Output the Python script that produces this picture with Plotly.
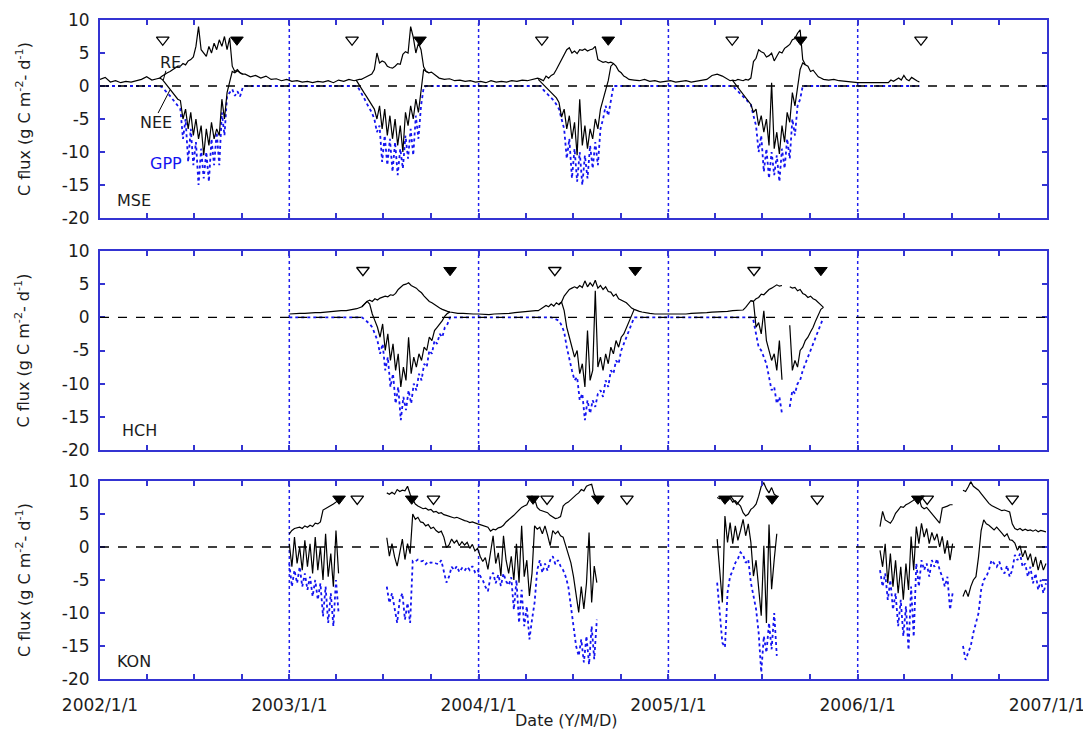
import pandas as pd
import plotly.graph_objects as go

# ---------------- data ----------------
# each series: list of (start date, step in days, values); None = data gap
MSE_RE = [
    ("2002-01-01", 10, [1.0, 1.3, 0.6, 0.8, 0.5, 0.7, 0.6, 0.8, 1.0, 1.4, 0.9, 1.1]),
    ("2002-04-26", 5, [1.2, 1.5, 1.8, 2.0, 2.2, 2.5, 2.7, 3.0, 3.0, 3.4, 3.2, 3.8, 4.0, 4.4, 6.0, 9.0, 5.5,
                       5.0, 4.5, 6.0, 5.0, 6.5, 5.5, 7.0, 6.0, 7.5, 5.5, 7.3, 3.0, 2.2, 2.5, 2.0, 1.8]),
    ("2002-10-08", 10, [1.8, 1.4, 1.6, 1.2, 1.5, 1.0, 1.1, 0.8, 1.0, 0.7, 0.8, 0.6, 0.7, 0.5, 0.7, 0.6,
                        0.8, 0.5, 0.9, 0.7, 1.0, 0.8, 1.0]),
    ("2003-05-20", 5, [1.0, 1.2, 1.4, 1.6, 1.8, 2.5, 5.0, 3.5, 3.8, 3.6, 3.0, 2.8, 2.7, 3.0, 3.4, 3.3, 4.8,
                       5.2, 5.0, 9.0, 7.4, 5.0, 6.5, 5.5, 2.9, 2.2, 2.0, 2.1, 1.8, 1.5, 1.2]),
    ("2003-10-27", 10, [1.0, 1.1, 0.8, 0.9, 0.7, 0.8, 0.6, 0.7, 0.5, 0.8, 0.6, 0.7, 0.6, 0.8, 0.7, 0.9,
                        0.8, 1.0, 1.2]),
    ("2004-04-30", 5, [1.0, 0.8, 1.5, 1.2, 1.6, 1.8, 2.5, 3.2, 4.0, 4.8, 5.5, 5.8, 5.0, 5.3, 4.9, 5.5, 5.4,
                       5.6, 5.3, 5.5, 5.6, 6.0, 4.0, 3.8, 3.6, 3.7, 3.5, 3.6, 3.4, 3.0, 2.3, 2.0, 1.5, 1.3, 1.0]),
    ("2004-10-27", 10, [0.9, 0.8, 1.0, 0.7, 0.8, 0.6, 0.7, 0.8, 0.6, 0.7, 0.8, 0.6, 0.7, 0.9, 1.0, 1.6,
                        1.8, 1.5, 1.0]),
    ("2005-04-30", 5, [0.8, 0.9, 0.8, 1.0, 0.9, 0.8, 1.0, 0.9, 1.2, 3.7, 4.2, 5.5, 5.2, 5.0, 4.4, 4.6, 5.0,
                       3.8, 4.5, 5.2, 5.0, 5.7, 6.0, 6.3, 7.0, 7.2, 8.0, 8.5, 4.0, 3.2, 3.0, 2.2, 2.4, 1.8,
                       1.4, 1.2, 1.0]),
    ("2005-11-06", 10, [0.9, 1.0, 0.8, 0.7, 0.6, 0.5]),
    ("2006-01-01", 59, [0.5, 0.5]),
    ("2006-03-06", 5, [0.9, 0.7, 1.0, 1.2, 0.9, 1.6, 1.0, 0.8, 1.3, 1.0, 0.8, 0.6]),
]
MSE_NEE = [
    ("2002-04-26", 5, [1.2, 1.0, 0.5, 0.0, -0.5, -0.9, -1.4, -2.0, -2.2, -5.0, -3.5, -6.5, -4.0, -7.5, -5.0,
                       -8.0, -6.0, -10.5, -6.5, -9.0, -5.5, -8.0, -6.5, -7.5, -2.0, -5.0, -1.0, 0.5, 2.2,
                       2.0, 2.3, 2.0, 1.8, None]),
    ("2003-05-10", 5, [0.9, 0.2, -0.5, -1.0, -1.6, -2.2, -3.0, -3.5, -5.0, -3.0, -6.5, -3.5, -7.5, -4.5,
                       -8.0, -5.0, -9.0, -6.0, -10.0, -4.0, -6.0, -3.0, -5.0, -2.0, -4.0, -0.5, 2.5, 2.2,
                       2.0, None]),
    ("2004-04-25", 5, [1.0, 0.6, 0.2, -0.2, -0.6, -0.9, -1.3, -1.8, -2.5, -4.7, -3.5, -6.5, -4.5, -8.0,
                       -5.5, -10.5, -2.0, -9.0, -6.0, -9.5, -6.5, -8.0, -5.0, -6.5, -3.5, -2.0, -0.8, 0.8,
                       3.0, 3.4, None]),
    ("2005-05-05", 5, [0.8, 0.3, -0.3, -0.7, -1.2, -1.8, -2.3, -2.8, -4.0, -3.5, -6.0, -4.5, -7.0, -5.0,
                       -9.0, 0.5, -9.5, -7.0, -10.3, -6.0, -8.5, -4.0, -5.5, -1.0, -3.0, -0.5, 2.5, 3.5,
                       3.2, None]),
]
MSE_GPP = [
    ("2002-01-01", 115, [0.0, 0.0]),
    ("2002-05-01", 5, [-0.2, -0.6, -1.0, -1.5, -2.0, -2.5, -3.0, -3.5, -8.0, -5.0, -11.5, -6.5, -12.0, -8.5,
                       -15.0, -9.5, -14.0, -10.0, -14.5, -8.0, -12.0, -7.0, -12.0, -4.0, -7.5, -1.5, -1.0,
                       -0.5, -1.5, -0.8, -1.6, -0.3, 0.0]),
    ("2002-10-13", 209, [0.0, 0.0]),
    ("2003-05-15", 5, [-0.4, -1.0, -1.8, -2.6, -3.2, -4.0, -5.0, -7.0, -6.0, -11.5, -7.5, -12.0, -8.0,
                       -13.0, -8.5, -13.5, -9.5, -12.5, -7.5, -11.0, -6.5, -10.5, -4.5, -8.0, -3.0, -0.3, 0.0]),
    ("2003-10-17", 196, [0.0, 0.0]),
    ("2004-05-05", 5, [-0.6, -1.0, -1.4, -1.8, -2.2, -2.8, -3.5, -5.0, -6.5, -11.0, -8.0, -14.0, -9.5,
                       -14.5, -10.0, -15.0, -10.5, -14.0, -9.0, -12.5, -8.5, -12.0, -6.5, -5.0, -3.0, -4.5,
                       -2.0, 0.0]),
    ("2004-09-22", 225, [0.0, 0.0]),
    ("2005-05-10", 5, [-0.4, -0.8, -1.1, -1.5, -1.9, -2.3, -2.8, -4.5, -6.0, -10.0, -7.5, -13.0, -9.5,
                       -14.0, -10.0, -13.5, -10.5, -14.5, -9.5, -12.5, -8.0, -11.0, -5.0, -7.5, -3.0, -2.0, 0.0]),
    ("2005-09-17", 225, [0.0, 0.0]),
]

HCH_RE = [
    ("2003-01-01", 10, [0.5, 0.6, 0.6, 0.6, 0.7, 0.7, 0.7, 0.8, 0.8, 0.9, 1.0, 1.0, 1.1, 1.3, 1.6]),
    ("2003-05-26", 5, [2.0, 2.4, 2.6, 2.4, 2.8, 2.6, 2.9, 3.0, 3.2, 3.1, 3.4, 3.3, 3.6, 4.2, 4.6, 4.9, 5.0,
                       5.2, 4.8, 4.6, 4.4, 4.0, 3.7, 3.2, 2.8, 2.4, 2.2, 1.9, 1.6, 1.4, 1.2, 1.0, 0.9, 0.8,
                       0.7, 0.7, 0.6]),
    ("2003-12-02", 10, [0.6, 0.5, 0.5, 0.5, 0.4, 0.4, 0.5, 0.5, 0.6, 0.6, 0.7, 0.8, 0.8, 0.9, 1.0]),
    ("2004-04-25", 5, [1.0, 1.3, 1.5, 1.8, 1.6, 2.0, 1.7, 2.2, 1.9, 2.3, 3.2, 3.8, 4.2, 4.4, 4.6, 4.4, 4.8,
                       4.5, 5.5, 4.6, 5.2, 4.7, 5.6, 4.4, 4.8, 4.2, 4.6, 3.9, 3.8, 3.2, 3.5, 2.8, 2.6, 2.4,
                       2.2, 1.8, 1.4, 1.2, 1.0, 0.9, 0.8, 0.7]),
    ("2004-11-26", 10, [0.6, 0.5, 0.5, 0.4, 0.4, 0.4, 0.5, 0.5, 0.6, 0.6, 0.7, 0.7, 0.8, 0.8, 0.9, 0.9,
                        1.0, 1.0, 1.1]),
    ("2005-05-30", 5, [1.5, 2.0, 2.5, 2.4, 2.8, 3.0, 3.5, 3.4, 3.8, 4.2, 4.4, 4.6, 4.9, 4.7, 4.8, None,
                       None, 4.6, 4.4, 4.5, 4.0, 4.2, 3.6, 3.4, 3.0, 3.2, 2.8, 2.6, 2.2, 1.8, 1.5]),
]
HCH_NEE = [
    ("2003-05-21", 5, [1.6, 2.0, 2.4, 2.0, 0.5, -0.5, -1.5, -3.0, -1.0, -5.0, -2.5, -6.5, -4.0, -8.0,
                       -5.5, -10.5, -7.5, -9.5, -3.0, -8.5, -6.0, -7.5, -5.5, -6.5, -4.5, -5.0, -3.0,
                       -3.5, -2.0, -1.5, -1.0, -0.5, 0.2, 0.6, 0.8, None]),
    ("2004-06-04", 5, [2.0, 2.3, 1.0, -1.5, -3.0, -4.5, -6.0, -5.0, -8.5, -7.0, -10.5, -2.0, -9.5, -8.0,
                       4.0, -7.5, -6.0, -8.0, -5.5, -7.0, -4.5, -5.5, -3.5, -4.5, -3.0, -2.5, -1.5, -0.5,
                       0.5, 1.2, None]),
    ("2005-06-09", 5, [2.5, 2.4, -1.5, -0.8, -2.5, 1.0, -3.5, -5.0, -6.5, -5.5, -8.0, -3.5, -9.4, None,
                       None, -1.2, -8.0, -6.5, -7.5, -5.0, -4.5, -3.5, -3.0, -2.2, -1.5, -0.5, 0.5, 1.2, 1.5]),
]
HCH_GPP = [
    ("2003-01-01", 140, [0.0, 0.0]),
    ("2003-05-26", 5, [-0.3, -0.6, -1.0, -1.5, -2.5, -3.5, -5.5, -4.0, -8.0, -6.0, -10.5, -8.5, -13.0,
                       -10.5, -15.5, -12.0, -14.0, -11.0, -13.0, -10.0, -11.0, -8.5, -9.5, -7.0, -7.5,
                       -5.0, -5.5, -3.5, -4.0, -2.5, -3.0, -1.5, -1.0, 0.0]),
    ("2003-11-07", 195, [0.0, 0.0]),
    ("2004-05-25", 5, [-0.2, -0.3, -0.5, -1.2, -2.2, -4.5, -6.5, -8.0, -9.5, -9.0, -12.5, -11.5, -15.5,
                       -12.5, -14.5, -12.5, -13.5, -11.5, -11.0, -12.0, -9.5, -10.5, -8.0, -8.5, -6.5,
                       -7.0, -5.0, -4.0, -3.0, -2.0, -1.0, 0.0]),
    ("2004-10-27", 225, [0.0, 0.0]),
    ("2005-06-14", 5, [-0.5, -2.5, -4.5, -5.0, -6.0, -7.0, -9.0, -11.0, -10.5, -13.0, -12.0, -14.5, None,
                       None, -13.5, -11.0, -11.5, -10.0, -9.5, -8.0, -7.0, -6.0, -5.0, -4.0, -3.0, -2.0,
                       -1.0, 0.0]),
]

KON_RE = [
    ("2003-01-01", 5, [2.0, 2.5, 2.8, 2.9, 3.0, 2.8, 3.2, 3.0, 3.3, 3.1, 3.6, 3.5, 3.8, 5.6, 5.8, 6.0, 6.2,
                       6.5, 6.8, 7.2, None]),
    ("2003-07-08", 5, [8.2, 8.0, 8.3, 8.0, 8.7, 8.4, 8.6, 8.5, 9.2, 8.0,
                       7.2, 6.5, 6.2, 6.0, 5.8, 5.9, 5.6, 5.7, 5.3, 5.4,
                       5.1, 5.2, 4.9, 4.8, 4.7, 4.6, 4.4, 4.5, 4.3, 4.2,
                       4.0, 3.9, 3.7, 3.8, 3.6, 3.5, 3.4, 3.3, 3.2, 3.0,
                       2.4, 2.7, 2.6, 2.9, 3.0, 3.3, 3.8, 4.1, 4.5, 4.8,
                       5.2, 5.6, 6.0, 6.2, 6.4, 7.2, 7.7, 7.3, 6.0, 5.6,
                       5.5, 5.4, 5.2, 4.8, 4.5, 4.3, 4.4, 4.6, 6.2, 6.6,
                       6.8, 7.2, 7.6, 7.9, 8.2, 8.7, 8.5, 9.2, 9.4, 9.5,
                       8.0, 7.4, None]),
    ("2005-04-05", 5, [7.5, 7.3, 7.6, 7.2, 7.0, 7.4, 6.8, 7.0, 6.6, 6.2, 5.2, 4.7, 5.0, 5.7, 6.0, 6.5, 7.7,
                       9.2, 9.7, 8.8, 8.2, 9.0, 8.0, 7.7, None]),
    ("2006-02-13", 5, [3.1, 5.4, 4.1, 3.8, 3.6, 4.2, 5.1, 5.6, 6.1, 6.0, 6.4, 6.6, 6.8, 7.1, 7.6, 7.4, 6.1,
                       5.8, 6.0, 5.5, 5.1, 4.6, 4.0, 3.6, 5.9, 6.0, 6.2, 6.4, 6.4, None]),
    ("2006-07-23", 5, [8.6, 8.4, 9.1, 9.9, 9.2, 8.9, 8.6, 8.1, 7.6, 7.0, 6.6, 6.3, 6.1, 5.8, 5.7, 5.5, 5.6,
                       5.4, 5.3, 3.5, 2.8, 2.6, 2.8, 2.5, 2.7, 2.5, 2.6, 2.4, 2.6, 2.3, 2.5, 2.4, 2.3]),
]
KON_NEE = [
    ("2003-01-01", 5, [0.5, -3.0, 1.5, -2.5, 0.0, -3.5, 1.0, -3.0, 0.5, -4.0, 1.5, -3.5, 0.0, -5.0, 2.0,
                       -4.5, -1.0, -6.0, 2.5, -4.0, None]),
    ("2003-07-08", 5, [1.4, -1.4, 0.5, -1.5, -2.9, -1.0, 1.2, -1.9, 0.5, -1.0,
                       5.0, 4.2, 4.5, 3.8, 3.7, 3.2, 3.4, 2.8, 3.0, 2.5,
                       2.2, 2.4, 1.5, -0.1, 0.3, 1.2, 0.6, 1.0, 0.2, 0.8,
                       0.3, 0.7, -0.2, 0.4, -0.6, -0.2, -1.4, -2.2, -1.6, -3.4,
                       -1.0, 1.7, -2.5, -0.9, -4.4, 1.7, -2.0, -4.0, -1.4, -5.0,
                       0.5, -5.4, 3.2, -4.5, -2.0, -7.4, -4.0, 3.2, 2.7, 3.0,
                       2.0, 3.2, 1.8, 0.2, 2.5, 2.0, 2.4, 1.7, 1.5, 0.2,
                       -0.9, -2.4, -4.5, -6.9, -9.9, -6.0, -9.4, -5.5, 2.2, -8.4,
                       -2.9, -5.4, None]),
    ("2005-04-05", 5, [1.2, -3.4, -8.4, 4.7, 0.7, 3.7, 0.5, 3.2, 1.0, 2.5, 4.2, 1.7, 3.5, 0.7, -4.4, -2.0,
                       -6.4, -10.4, 0.2, -11.5, 3.4, -6.4, -1.9, 2.0, None]),
    ("2006-02-13", 5, [-0.5, -3.0, 0.5, -5.5, -1.0, -6.0, -2.0, -7.0, -3.0, -8.0, -2.5, -6.5, 1.6, -3.5,
                       3.1, 0.5, 3.6, 1.5, 2.8, 0.5, 2.2, 1.0, 2.0, 0.0, 1.6, -1.0, 1.0, -2.0, 0.5, None]),
    ("2006-07-23", 5, [-7.5, -6.5, -7.5, -6.0, -5.0, -4.5, -1.5, 2.5, 4.1, 3.5, 3.3, 3.0, 2.6, 3.0, 2.6,
                       2.1, 1.6, 2.0, 1.1, 1.0, 0.6, -0.5, 0.2, -1.5, -0.5, -2.0, -1.0, -3.0, -1.5, -3.5,
                       -2.0, -3.5, -2.5]),
]
KON_GPP = [
    ("2003-01-01", 5, [-2.5, -6.0, -3.5, -5.5, -3.0, -6.0, -4.0, -6.5, -4.5, -7.5, -5.0, -8.0, -5.5, -10.5,
                       -6.0, -11.5, -7.0, -12.0, -5.0, -10.0, None]),
    ("2003-07-08", 5, [-6.0, -8.5, -7.0, -9.0, -11.5, -8.0, -7.0, -11.0, -8.5, -11.5,
                       -2.1, -2.2, -1.9, -2.2, -2.1, -2.6, -2.2, -2.4, -2.3, -2.5,
                       -2.6, -2.0, -3.9, -5.4, -4.5, -3.0, -3.5, -2.9, -3.8, -3.2,
                       -3.6, -3.0, -3.5, -2.9, -3.8, -3.4, -4.4, -5.0, -6.0, -6.7,
                       -4.5, -3.9, -5.5, -4.2, -5.9, -4.0, -5.2, -5.8, -4.6, -9.5,
                       -5.0, -11.5, -6.5, -12.0, -9.0, -14.0, -11.0, -8.4, -3.5, -2.0,
                       -3.9, -2.5, -3.6, -2.0, -1.4, -2.6, -2.0, -2.9, -3.5, -4.5,
                       -6.0, -9.4, -12.0, -15.0, -16.5, -14.0, -17.5, -13.5, -17.8, -12.0,
                       -17.0, -11.0, None]),
    ("2005-04-05", 5, [-5.4, -9.4, -14.5, -15.2, -6.9, -4.4, -3.6, -2.4, -1.8, -0.8, -1.2, -2.4, -1.9,
                       -5.4, -7.5, -9.4, -13.0, -19.0, -13.5, -16.0, -11.5, -15.5, -10.0, -16.5, None]),
    ("2006-02-13", 5, [-3.5, -6.0, -4.0, -8.0, -5.0, -9.5, -7.0, -12.0, -8.0, -13.5, -9.0, -15.6, -6.0,
                       -13.6, -2.5, -6.0, -2.0, -3.5, -2.5, -4.5, -2.0, -3.0, -1.8, -3.5, -4.5, -6.0,
                       -4.5, -9.5, -7.0, None]),
    ("2006-07-23", 5, [-15.0, -17.1, -16.0, -15.0, -13.0, -11.5, -10.0, -6.5, -5.0, -4.5, -3.5, -2.0,
                       -2.5, -3.0, -2.2, -3.5, -4.0, -2.8, -4.5, -3.5, -1.2, -2.0, -1.0, -3.0, -2.5,
                       -4.5, -3.0, -5.5, -4.0, -6.5, -5.0, -7.0, -5.5]),
]

# phenology markers (open = start, filled = end of season)
MSE_OPEN = ["2002-05-02", "2003-05-02", "2004-05-02", "2005-05-04", "2006-05-03"]
MSE_FILLED = ["2002-09-22", "2003-09-10", "2004-09-07", "2005-09-13"]
HCH_OPEN = ["2003-05-23", "2004-05-27", "2005-06-15"]
HCH_FILLED = ["2003-11-07", "2004-10-29", "2005-10-22"]
KON_OPEN = ["2003-05-12", "2003-10-06", "2004-05-12", "2004-10-13", "2005-05-13", "2005-10-15",
            "2006-05-15", "2006-10-26"]
KON_FILLED = ["2003-04-07", "2003-08-25", "2004-04-15", "2004-08-18", "2005-04-20", "2005-07-20",
              "2006-04-27"]
MARKER_LEVEL = [7.0, 7.1, 7.3]

X_START, X_END = "2002-01-01", "2007-01-01"
YEAR_TICKS = ["2002-01-01", "2003-01-01", "2004-01-01", "2005-01-01", "2006-01-01", "2007-01-01"]
YEAR_LABELS = ["2002/1/1", "2003/1/1", "2004/1/1", "2005/1/1", "2006/1/1", "2007/1/1"]
YEAR_LINES = ["2003-01-01", "2004-01-01", "2005-01-01", "2006-01-01"]
Y_TICKS = [-20, -15, -10, -5, 0, 5, 10]
Y_LABELS = ["-20", "-15", "-10", "-5", "0", "5", "10"]

# ---------------- helpers ----------------
def build(segments):
    xs, ys = [], []
    for start, step, vals in segments:
        t0 = pd.Timestamp(start)
        for i, v in enumerate(vals):
            xs.append(t0 + pd.Timedelta(days=step * i))
            ys.append(v)
    return xs, ys


BLUE_AX = "#3434d2"
GPP_BLUE = "#1414f0"
TXT = "#1c1c1c"
FONT = "DejaVu Sans"

panels = [
    (MSE_RE, MSE_NEE, MSE_GPP, MSE_OPEN, MSE_FILLED),
    (HCH_RE, HCH_NEE, HCH_GPP, HCH_OPEN, HCH_FILLED),
    (KON_RE, KON_NEE, KON_GPP, KON_OPEN, KON_FILLED),
]

fig = go.Figure()
for p, (re_s, nee_s, gpp_s, opn, fil) in enumerate(panels):
    xa = "x" if p == 0 else f"x{p + 1}"
    ya = "y" if p == 0 else f"y{p + 1}"
    gx, gy = build(gpp_s)
    fig.add_trace(go.Scatter(x=gx, y=gy, mode="lines", xaxis=xa, yaxis=ya, connectgaps=False,
                             line=dict(color=GPP_BLUE, width=1.8, dash="dot"), name="GPP"))
    nx, ny = build(nee_s)
    fig.add_trace(go.Scatter(x=nx, y=ny, mode="lines", xaxis=xa, yaxis=ya, connectgaps=False,
                             line=dict(color="black", width=1.2), name="NEE"))
    rx, ry = build(re_s)
    fig.add_trace(go.Scatter(x=rx, y=ry, mode="lines", xaxis=xa, yaxis=ya, connectgaps=False,
                             line=dict(color="black", width=1.2), name="RE"))
    fig.add_trace(go.Scatter(x=opn, y=[MARKER_LEVEL[p]] * len(opn), mode="markers", xaxis=xa, yaxis=ya,
                             marker=dict(symbol="triangle-down-open", size=11, color="black",
                                         line=dict(width=1.3, color="black"))))
    fig.add_trace(go.Scatter(x=fil, y=[MARKER_LEVEL[p]] * len(fil), mode="markers", xaxis=xa, yaxis=ya,
                             marker=dict(symbol="triangle-down", size=11, color="black",
                                         line=dict(width=1, color="black"))))

# ---------------- layout ----------------
# The page body adds an 8px offset; the figure is sized so the plot area sits at
# page pixels x 100..1047, y 20..679 like the reference.
OFF = 8
FIG_W, FIG_H = 1091 - OFF, 731 - OFF
L, R, T, B = 100 - OFF, 44, 20 - OFF, 52
plot_h = FIG_H - T - B          # 659
plot_w = FIG_W - L - R          # 947
PLOT_BOTTOM_PX = 679            # page pixel of plot-area bottom
PANEL_PX = [(20, 218), (251, 450), (481, 679)]


def dom(top, bottom):
    return [(PLOT_BOTTOM_PX - bottom) / plot_h, (PLOT_BOTTOM_PX - top) / plot_h]


layout = dict(
    width=FIG_W, height=FIG_H, margin=dict(l=L, r=R, t=T, b=B, autoexpand=False),
    paper_bgcolor="white", plot_bgcolor="white", showlegend=False,
    font=dict(family=FONT, size=16, color=TXT),
)
shapes, annotations = [], []
for p in range(3):
    sx = "" if p == 0 else str(p + 1)
    layout[f"xaxis{sx}"] = dict(
        type="date", range=[X_START, X_END], domain=[0, 1], anchor=f"y{sx}",
        showline=True, linecolor=BLUE_AX, linewidth=2, mirror="ticks",
        ticks="inside", ticklen=5, tickwidth=1.5, tickcolor=BLUE_AX,
        tickmode="array", tickvals=YEAR_TICKS, ticktext=YEAR_LABELS,
        minor=dict(dtick="M3", tick0=X_START, ticks="inside", ticklen=5, tickwidth=1.5,
                   tickcolor=BLUE_AX, showgrid=False),
        showgrid=False, zeroline=False,
        showticklabels=(p == 2), tickfont=dict(size=17, color=TXT), ticklabelstandoff=10,
    )
    layout[f"yaxis{sx}"] = dict(
        range=[-20, 10], domain=dom(*PANEL_PX[p]), anchor=f"x{sx}",
        showline=True, linecolor=BLUE_AX, linewidth=2, mirror="ticks",
        ticks="inside", ticklen=5, tickwidth=1.5, tickcolor=BLUE_AX,
        tickmode="array", tickvals=Y_TICKS, ticktext=Y_LABELS, showgrid=False, zeroline=False,
        tickfont=dict(size=17, color=TXT), ticklabelstandoff=5,
    )
    xr = f"x{sx}"
    yr = f"y{sx}"
    shapes.append(dict(type="line", xref=f"{xr} domain", yref=yr, x0=0, x1=1, y0=0, y1=0,
                       line=dict(color="black", width=1.3, dash="dash"), layer="above"))
    for d in YEAR_LINES:
        shapes.append(dict(type="line", xref=xr, yref=f"{yr} domain", x0=d, x1=d, y0=0, y1=1,
                           line=dict(color="#2020ee", width=1.5, dash="dot"), layer="below"))
    annotations.append(dict(text="C flux (g C m<sup>-2</sup>- d<sup>-1</sup>)", textangle=-90,
                            xref="paper", x=(23 - 100) / plot_w, yref=f"{yr} domain", y=0.5,
                            xanchor="center", yanchor="middle", showarrow=False,
                            font=dict(size=16, color=TXT)))

# site labels
annotations += [
    dict(text="MSE", xref="x domain", yref="y domain", x=0.016, y=0.09, xanchor="left",
         yanchor="middle", showarrow=False, font=dict(size=16, color=TXT)),
    dict(text="HCH", xref="x2 domain", yref="y2 domain", x=0.021, y=0.10, xanchor="left",
         yanchor="middle", showarrow=False, font=dict(size=16, color=TXT)),
    dict(text="KON", xref="x3 domain", yref="y3 domain", x=0.016, y=0.086, xanchor="left",
         yanchor="middle", showarrow=False, font=dict(size=16, color=TXT)),
]
# series labels in the MSE panel
annotations += [
    dict(text="RE", xref="x", yref="y", x="2002-05-16", y=3.6, showarrow=False,
         font=dict(size=16, color=TXT)),
    dict(text="NEE", xref="x", yref="y", x="2002-04-19", y=-5.5, showarrow=False,
         font=dict(size=16, color=TXT)),
    dict(text="GPP", xref="x", yref="y", x="2002-05-08", y=-11.8, showarrow=False,
         font=dict(size=16, color=GPP_BLUE)),
]
shapes += [
    dict(type="line", xref="x", yref="y", x0="2002-05-08", y0=2.3, x1="2002-05-03", y1=0.9,
         line=dict(color="black", width=1)),
    dict(type="line", xref="x", yref="y", x0="2002-04-23", y0=-4.1, x1="2002-05-16", y1=-0.6,
         line=dict(color="black", width=1)),
]
# x axis title
annotations.append(dict(text="Date (Y/M/D)", xref="x3 domain", x=0.493, yref="paper",
                        y=(PLOT_BOTTOM_PX - 720) / plot_h, xanchor="center", yanchor="middle",
                        showarrow=False, font=dict(size=16, color=TXT)))

layout["shapes"] = shapes
layout["annotations"] = annotations
fig.update_layout(**layout)

fig.write_html("out.html")
